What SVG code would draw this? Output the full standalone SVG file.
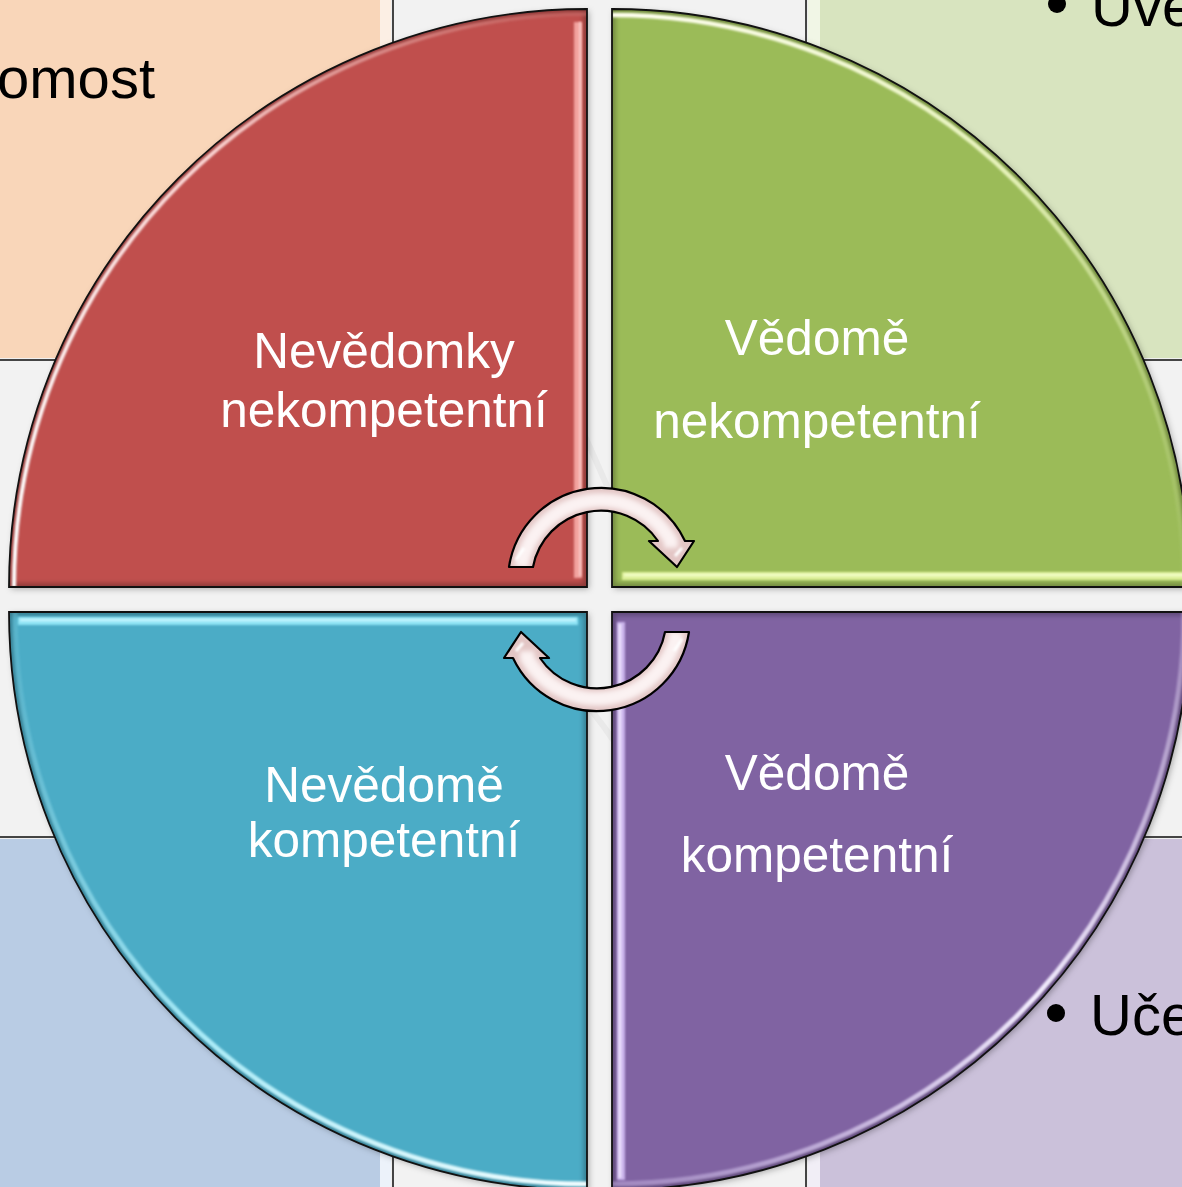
<svg xmlns="http://www.w3.org/2000/svg" xmlns:xlink="http://www.w3.org/1999/xlink" width="1182" height="1187" viewBox="0 0 1182 1187">
<defs>
<style>
.cell{fill:#F2F2F2;stroke:#1a1a1a;stroke-width:1.6}
.q{stroke:none}
.edge{fill:none;stroke:#111;stroke-width:1.8}
.lbl{font-family:"Liberation Sans",Arial,sans-serif;font-size:49.5px;fill:#FFFFFF;text-anchor:middle}
.bg{font-family:"Liberation Sans",Arial,sans-serif;font-size:58px;fill:#000}
.inner{fill:none;stroke:#000;stroke-opacity:.28;stroke-width:7}
</style>
<filter id="b1" filterUnits="userSpaceOnUse" x="-200" y="-200" width="1600" height="1600"><feGaussianBlur stdDeviation="1"/></filter>
<filter id="b2" filterUnits="userSpaceOnUse" x="-200" y="-200" width="1600" height="1600"><feGaussianBlur stdDeviation="2.5"/></filter>
<filter id="sh" filterUnits="userSpaceOnUse" x="-200" y="-200" width="1600" height="1600"><feDropShadow dx="2" dy="2" stdDeviation="3" flood-color="#000" flood-opacity=".3"/></filter>
<clipPath id="cR"><path d="M587,587 L9,587 A578,578 0 0 1 587,9 Z"/></clipPath>
<clipPath id="cG"><path d="M612,587 L612,9 A578,578 0 0 1 1190,587 Z"/></clipPath>
<clipPath id="cB"><path d="M587,612 L587,1190 A578,578 0 0 1 9,612 Z"/></clipPath>
<clipPath id="cP"><path d="M612,612 L1190,612 A578,578 0 0 1 612,1190 Z"/></clipPath>
<linearGradient id="gR" gradientUnits="userSpaceOnUse" x1="60" y1="560" x2="560" y2="20"><stop offset="0" stop-color="#FFFFFF"/><stop offset=".55" stop-color="#FBD3D1"/><stop offset="1" stop-color="#E8938F" stop-opacity=".3"/></linearGradient>
<linearGradient id="gG" gradientUnits="userSpaceOnUse" x1="620" y1="20" x2="1170" y2="560"><stop offset="0" stop-color="#FFFFF0"/><stop offset=".5" stop-color="#E5F2B8"/><stop offset="1" stop-color="#B9D47C" stop-opacity=".3"/></linearGradient>
<linearGradient id="gB" gradientUnits="userSpaceOnUse" x1="580" y1="1180" x2="30" y2="640"><stop offset="0" stop-color="#F0FDFF"/><stop offset=".5" stop-color="#A6EAF7"/><stop offset="1" stop-color="#7FD2E6" stop-opacity=".3"/></linearGradient>
<linearGradient id="gP" gradientUnits="userSpaceOnUse" x1="1170" y1="640" x2="620" y2="1180"><stop offset="0" stop-color="#E3D6F5" stop-opacity=".4"/><stop offset=".45" stop-color="#F4EEFF"/><stop offset="1" stop-color="#C9B5E6" stop-opacity=".5"/></linearGradient>
<clipPath id="cA"><path d="M509,567 A93,93 0 0 1 685,541 L694,541 L677,567 L649,541 L658,541 A69,69 0 0 0 533,567 Z"/></clipPath>
<g id="arrow">
<path d="M509,567 A93,93 0 0 1 685,541 L694,541 L677,567 L649,541 L658,541 A69,69 0 0 0 533,567 Z" fill="#E3C6C5"/>
<g clip-path="url(#cA)">
<path d="M521,567 A81,81 0 0 1 671,541 L671,548" fill="none" stroke="#FBF2F2" stroke-width="14" filter="url(#b2)"/>
<path d="M516,560 L524,548" stroke="#FFFFFF" stroke-width="3" filter="url(#b1)"/>
<path d="M682,548 L675,556" stroke="#FFFFFF" stroke-width="3" filter="url(#b1)"/>
</g>
<path d="M509,567 A93,93 0 0 1 685,541 L694,541 L677,567 L649,541 L658,541 A69,69 0 0 0 533,567 Z" fill="none" stroke="#000" stroke-width="2.2" stroke-linejoin="round"/>
</g>
</defs>

<g id="background">
<rect x="0" y="0" width="1182" height="1187" fill="#EFEFEF"/>
<rect x="-2" y="-2" width="382" height="360" fill="#F9D6B9"/>
<rect x="380" y="-2" width="11" height="360" fill="#FCEFE4"/>
<rect x="820" y="-2" width="364" height="360" fill="#D8E4BF"/>
<rect x="808" y="-2" width="12" height="360" fill="#F1F6E6"/>
<rect x="-2" y="839" width="382" height="350" fill="#B9CCE4"/>
<rect x="380" y="839" width="11" height="350" fill="#ECF2FA"/>
<rect x="820" y="839" width="364" height="350" fill="#CBC1DA"/>
<rect x="808" y="839" width="12" height="350" fill="#F1EEF6"/>
<rect class="cell" x="393" y="-5" width="413" height="360"/>
<rect class="cell" x="-5" y="360" width="400" height="477"/>
<rect class="cell" x="806" y="360" width="381" height="477"/>
<rect class="cell" x="393" y="837" width="413" height="360"/>
<rect x="388" y="352" width="423" height="490" fill="#F2F2F2"/>
<path d="M560,380 Q600,470 640,560 M520,640 Q600,700 660,820" fill="none" stroke="#E2E2E2" stroke-width="6" opacity=".6"/>
<text class="bg" x="155" y="98" text-anchor="end">omost</text>
<circle cx="1057" cy="4" r="9" fill="#000"/>
<text class="bg" x="1091" y="26">Uve</text>
<circle cx="1056" cy="1013" r="9" fill="#000"/>
<text class="bg" x="1090" y="1035">Uče</text>
</g>

<g id="node-red">
<path class="q" d="M587,587 L9,587 A578,578 0 0 1 587,9 Z" fill="#C0504D" filter="url(#sh)"/>
<g clip-path="url(#cR)">
<path class="inner" d="M587,587 L9,587 A578,578 0 0 1 587,9 Z" filter="url(#b2)"/>
<path d="M14,587 A573,573 0 0 1 587,14" fill="none" stroke="url(#gR)" stroke-width="4" filter="url(#b1)"/>
<path d="M578,22 L578,578" fill="none" stroke="#F2A29E" stroke-width="8" filter="url(#b1)"/>
<path d="M580,22 L580,576" fill="none" stroke="#F9CBC8" stroke-width="2" filter="url(#b1)"/>
</g>
<path class="edge" d="M587,587 L9,587 A578,578 0 0 1 587,9 Z"/>
<text class="lbl" x="384" y="368">Nevědomky</text>
<text class="lbl" x="384" y="427">nekompetentní</text>
</g>

<g id="node-green">
<path class="q" d="M612,587 L612,9 A578,578 0 0 1 1190,587 Z" fill="#9BBB59" filter="url(#sh)"/>
<g clip-path="url(#cG)">
<path class="inner" d="M612,587 L612,9 A578,578 0 0 1 1190,587 Z" filter="url(#b2)"/>
<path d="M612,15 A572,572 0 0 1 1184,587" fill="none" stroke="url(#gG)" stroke-width="4.5" filter="url(#b1)"/>
<path d="M622,576 L1190,576" fill="none" stroke="#DDF09A" stroke-width="8" filter="url(#b1)"/>
<path d="M624,575 L1190,575" fill="none" stroke="#F3FFCC" stroke-width="2.5" filter="url(#b1)"/>
</g>
<path class="edge" d="M612,587 L612,9 A578,578 0 0 1 1190,587 Z"/>
<text class="lbl" x="817" y="355">Vědomě</text>
<text class="lbl" x="817" y="438">nekompetentní</text>
</g>

<g id="node-blue">
<path class="q" d="M587,612 L587,1190 A578,578 0 0 1 9,612 Z" fill="#4BACC6" filter="url(#sh)"/>
<g clip-path="url(#cB)">
<path class="inner" d="M587,612 L587,1190 A578,578 0 0 1 9,612 Z" filter="url(#b2)"/>
<path d="M587,1184 A572,572 0 0 1 15,612" fill="none" stroke="url(#gB)" stroke-width="5" filter="url(#b1)"/>
<path d="M18,621 L578,621" fill="none" stroke="#8FE3F5" stroke-width="8" filter="url(#b1)"/>
<path d="M20,620 L576,620" fill="none" stroke="#C8F6FF" stroke-width="2.5" filter="url(#b1)"/>
</g>
<path class="edge" d="M587,612 L587,1190 A578,578 0 0 1 9,612 Z"/>
<text class="lbl" x="384" y="802">Nevědomě</text>
<text class="lbl" x="384" y="857">kompetentní</text>
</g>

<g id="node-purple">
<path class="q" d="M612,612 L1190,612 A578,578 0 0 1 612,1190 Z" fill="#8064A2" filter="url(#sh)"/>
<g clip-path="url(#cP)">
<path class="inner" d="M612,612 L1190,612 A578,578 0 0 1 612,1190 Z" filter="url(#b2)"/>
<path d="M1184,612 A572,572 0 0 1 612,1184" fill="none" stroke="url(#gP)" stroke-width="5" filter="url(#b1)"/>
<path d="M621,622 L621,1180" fill="none" stroke="#C9B3EA" stroke-width="8" filter="url(#b1)"/>
<path d="M620,624 L620,1178" fill="none" stroke="#F0E6FF" stroke-width="2.5" filter="url(#b1)"/>
</g>
<path class="edge" d="M612,612 L1190,612 A578,578 0 0 1 612,1190 Z"/>
<text class="lbl" x="817" y="790">Vědomě</text>
<text class="lbl" x="817" y="872">kompetentní</text>
</g>

<g id="connectors">
<use xlink:href="#arrow" href="#arrow"/>
<use xlink:href="#arrow" href="#arrow" transform="rotate(180 599 599.5)"/>
</g>
</svg>
